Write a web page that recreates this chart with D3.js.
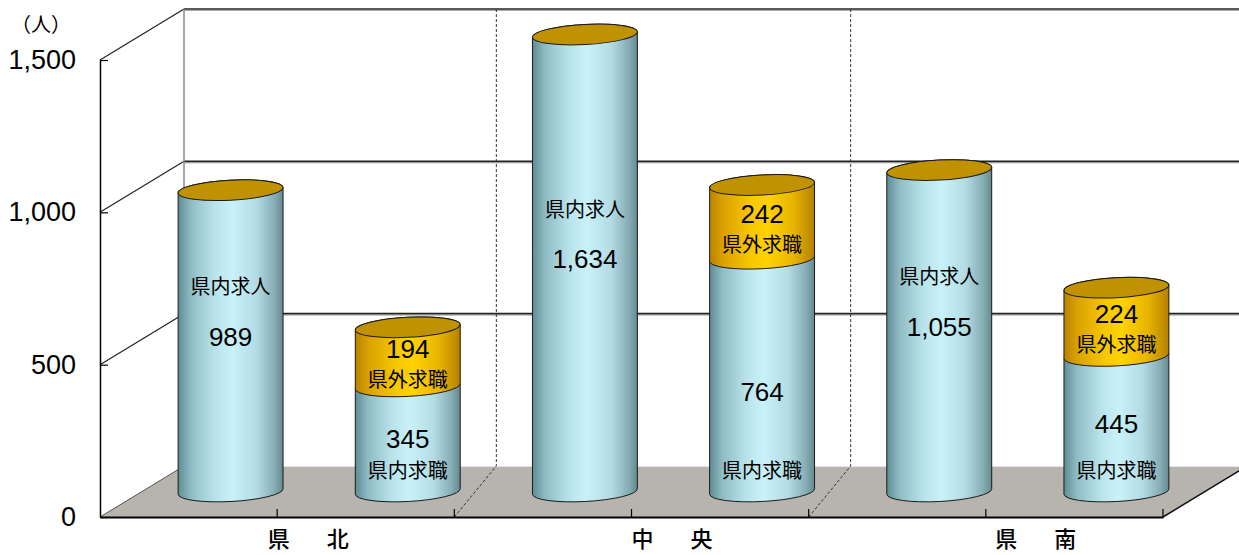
<!DOCTYPE html>
<html>
<head>
<meta charset="utf-8">
<script src="https://cdn.jsdelivr.net/npm/d3@7"></script>
<style>
  body { margin: 0; background: #fff; }
  svg { display: block; }
  .num { font-family: "Liberation Sans", Arial, sans-serif; font-size: 26px; fill: #000; }
  .jp { font-family: "Noto Sans CJK JP", sans-serif; fill: #000; }
</style>
</head>
<body>
<svg id="chart" width="1239" height="555"></svg>
<script>
const categories = ["県　北", "中　央", "県　南"];
const kyujin = [989, 1634, 1055];       // 県内求人
const naiKyushoku = [345, 764, 445];    // 県内求職
const gaiKyushoku = [194, 242, 224];    // 県外求職
const yTicks = [0, 500, 1000, 1500];
const seriesKeys = ["求人", "求職"];

const width = 1239, height = 555;
const depth = {dx: 84, dy: -51};
const mid = {dx: depth.dx / 2, dy: depth.dy / 2};
const tilt = -3;

const svg = d3.select("#chart");

const yScale = d3.scaleLinear().domain([0, 1500]).range([517, 60]);
const x0 = d3.scaleBand().domain(categories).range([100, 1163]);
const x1 = d3.scaleBand().domain(seriesKeys).range([0, x0.bandwidth()]);
const rx = x1.bandwidth() * 0.593 / 2;
const ry = 10;
const yMax = yScale.domain()[1];

// gradients
const defs = svg.append("defs");
function grad(id, stops) {
  const g = defs.append("linearGradient").attr("id", id)
    .attr("x1", "0%").attr("x2", "100%").attr("y1", "0%").attr("y2", "0%");
  stops.forEach(s => g.append("stop").attr("offset", s[0]).attr("stop-color", s[1]));
}
grad("blue", [["0%", "#5f8c93"], ["12%", "#8fbcc4"], ["35%", "#b9e3eb"], ["52%", "#c9f1f9"], ["75%", "#b3dbe3"], ["92%", "#86acb3"], ["100%", "#648a90"]]);
grad("gold", [["0%", "#b88200"], ["12%", "#d9a000"], ["40%", "#f8c800"], ["55%", "#ffd200"], ["80%", "#e8b400"], ["100%", "#b48000"]]);

const y0 = yScale(0), yTop = yScale(yMax);
const xl = x0.range()[0], xr = x0.range()[1];

// floor
svg.append("polygon")
  .attr("points", [[xl, y0], [xl + depth.dx, y0 + depth.dy], [xr + depth.dx, y0 + depth.dy], [xr, y0]].join(" "))
  .attr("fill", "#b7b4ad");
svg.append("line")
  .attr("x1", xl + depth.dx).attr("x2", xr + depth.dx)
  .attr("y1", y0 + depth.dy + 0.5).attr("y2", y0 + depth.dy + 0.5)
  .attr("stroke", "#e4e4e4").attr("stroke-width", 1);

// back wall gridlines
yTicks.filter(d => d > 0).forEach(v => {
  const yy = yScale(v) + depth.dy;
  svg.append("line")
    .attr("x1", xl + depth.dx).attr("x2", xr + depth.dx)
    .attr("y1", yy + 1.5).attr("y2", yy + 1.5)
    .attr("stroke", "#aaa").attr("stroke-width", 1);
  svg.append("line")
    .attr("x1", xl + depth.dx).attr("x2", xr + depth.dx)
    .attr("y1", yy).attr("y2", yy)
    .attr("stroke", "#222").attr("stroke-width", 1.6);
  svg.append("line")
    .attr("x1", xl).attr("x2", xl + depth.dx)
    .attr("y1", yScale(v)).attr("y2", yy)
    .attr("stroke", "#222").attr("stroke-width", 1.2);
});
// left wall back edge
svg.append("line")
  .attr("x1", xl + depth.dx).attr("x2", xl + depth.dx)
  .attr("y1", yTop + depth.dy).attr("y2", y0 + depth.dy)
  .attr("stroke", "#8a8a8a").attr("stroke-width", 1.5);
// left wall floor edge
svg.append("line")
  .attr("x1", xl).attr("x2", xl + depth.dx)
  .attr("y1", y0).attr("y2", y0 + depth.dy)
  .attr("stroke", "#555").attr("stroke-width", 1);

// category dividers
categories.slice(1).forEach(c => {
  const bx = x0(c);
  svg.append("path")
    .attr("d", `M${bx},${y0}L${bx + mid.dx},${y0 + depth.dy}L${bx + mid.dx},${yTop + depth.dy}`)
    .attr("fill", "none").attr("stroke", "#333").attr("stroke-width", 1)
    .attr("stroke-dasharray", "3,2");
});

// cylinders
const rad = tilt * Math.PI / 180;
const ax = rx * Math.cos(rad), ay = rx * Math.sin(rad);
function bodyPath(cx, yT, yB) {
  return `M${cx - ax},${yT - ay}L${cx - ax},${yB - ay}` +
    `A${rx},${ry} ${tilt} 0 0 ${cx + ax},${yB + ay}` +
    `L${cx + ax},${yT + ay}` +
    `A${rx},${ry} ${tilt} 0 0 ${cx - ax},${yT - ay}Z`;
}
const base = y0 + mid.dy;
const py = v => yScale(Math.min(v, yMax)) + mid.dy;

function cylinder(cx, segs) {
  const g = svg.append("g");
  let acc = 0;
  segs.forEach(s => {
    const yB = py(acc), yT = py(acc + s.value);
    g.append("path").attr("d", bodyPath(cx, yT, yB))
      .attr("fill", `url(#${s.fill})`).attr("stroke", "#1a1a1a").attr("stroke-width", 1);
    acc += s.value;
  });
  g.append("ellipse")
    .attr("cx", cx).attr("cy", py(acc)).attr("rx", rx).attr("ry", ry)
    .attr("transform", `rotate(${tilt},${cx},${py(acc)})`)
    .attr("fill", "#c19200").attr("stroke", "#1a1a1a").attr("stroke-width", 1);
}

function label(cx, y, t, cls, size) {
  const tx = svg.append("text").attr("x", cx).attr("y", y)
    .attr("text-anchor", "middle").attr("dominant-baseline", "central")
    .attr("class", cls).text(t);
  if (size) tx.style("font-size", size + "px");
}
const fmt = d3.format(",");

categories.forEach((c, i) => {
  const cA = x0(c) + x1("求人") + x1.bandwidth() / 2 + mid.dx;
  const cB = x0(c) + x1("求職") + x1.bandwidth() / 2 + mid.dx;
  cylinder(cA, [{value: kyujin[i], fill: "blue"}]);
  cylinder(cB, [{value: naiKyushoku[i], fill: "blue"}, {value: gaiKyushoku[i], fill: "gold"}]);

  const mA = (base + py(kyujin[i])) / 2;
  label(cA, mA - 55, "県内求人", "jp", 20);
  label(cA, mA - 4, fmt(kyujin[i]), "num");

  const mB = (base + py(naiKyushoku[i])) / 2;
  label(cB, Math.max(mB, base - 100), fmt(naiKyushoku[i]), "num");
  label(cB, base - 22, "県内求職", "jp", 20);

  const mC = (py(naiKyushoku[i]) + py(naiKyushoku[i] + gaiKyushoku[i])) / 2;
  label(cB, mC - 8, fmt(gaiKyushoku[i]), "num");
  label(cB, mC + 22, "県外求職", "jp", 20);
});

// floor right edge
svg.append("line")
  .attr("x1", xr).attr("x2", xr + depth.dx)
  .attr("y1", y0).attr("y2", y0 + depth.dy)
  .attr("stroke", "#111").attr("stroke-width", 1.5);

// y axis
const yAxis = svg.append("g")
  .attr("transform", `translate(${xl},0)`)
  .call(d3.axisLeft(yScale).tickValues(yTicks).tickFormat(fmt)
    .tickSize(-8).tickSizeOuter(0).tickPadding(24));
yAxis.select(".domain").attr("stroke", "#000").attr("stroke-width", 1.5);
yAxis.selectAll(".tick line").attr("stroke", "#000").attr("stroke-width", 1.2);
yAxis.selectAll(".tick text")
  .style("font-family", "'Liberation Sans', Arial, sans-serif")
  .style("font-size", "27px").attr("fill", "#000");

// x axis
const xAxis = svg.append("g")
  .attr("transform", `translate(0,${y0})`)
  .call(d3.axisBottom(x0).tickSize(-8).tickSizeOuter(0).tickFormat(""));
xAxis.select(".domain").attr("stroke", "#000").attr("stroke-width", 2);
xAxis.selectAll(".tick line").attr("stroke", "#000").attr("stroke-width", 1.2);
categories.forEach(c => {
  xAxis.append("line")
    .attr("x1", x0(c) + x0.bandwidth()).attr("x2", x0(c) + x0.bandwidth())
    .attr("y1", 0).attr("y2", -8)
    .attr("stroke", "#000").attr("stroke-width", 1.2);
});
categories.forEach((c, i) => {
  svg.append("text")
    .attr("x", x0(c) + x0.bandwidth() / 2 + (i - 1) * 9.5)
    .attr("y", 537)
    .attr("dominant-baseline", "central")
    .attr("class", "jp")
    .style("font-size", "22px")
    .style("font-weight", "500")
    .style("letter-spacing", "7.5px")
    .text(c);
});

// unit
svg.append("text")
  .attr("x", 41).attr("y", 23)
  .attr("text-anchor", "middle").attr("dominant-baseline", "central")
  .attr("class", "jp").style("font-size", "20px")
  .text("（人）");
</script>
</body>
</html>
